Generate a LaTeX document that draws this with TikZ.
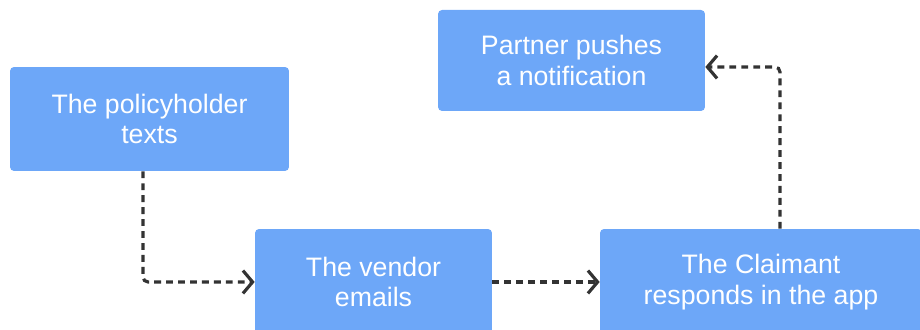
\documentclass[tikz,border=0pt]{standalone}
\usepackage{fontspec}
\setmainfont{Liberation Sans}
\usepackage{xcolor}
\usetikzlibrary{arrows.meta}
\definecolor{boxblue}{RGB}{109,167,248}
\definecolor{linegray}{RGB}{51,51,51}

\begin{document}
\begin{tikzpicture}[x=0.02cm,y=0.02cm,
  stepbox/.style={fill=boxblue,rounded corners=0.08cm,inner sep=0pt,align=center,
    text=white,font=\fontsize{15.2pt}{17.5pt}\selectfont},
  flow/.style={draw=linegray,line width=1.8pt,dash pattern=on 3.9pt off 2.9pt,
    rounded corners=0.1cm,-{Straight Barb[length=5.5pt,width=13pt,line width=1.8pt]}}]
 \clip (0,0) rectangle (920,330);
 \node[stepbox,minimum width=5.58cm,minimum height=2.08cm] (holder) at (149.5,211) {The policyholder\\texts};
 \node[stepbox,minimum width=4.74cm,minimum height=2.12cm] (vendor) at (373.5,48) {The vendor\\emails};
 \node[stepbox,minimum width=6.44cm,minimum height=2.12cm] (claimant) at (761,48) {The Claimant\\responds in the app};
 \node[stepbox,minimum width=5.34cm,minimum height=2.02cm] (partner) at (571.5,269.5) {Partner pushes\\a notification};
 %%%%%%%%%%%%%%%%%%%%%%%%%%%%%%%%%%%
 \draw[flow] ([xshift=-0.13cm]holder.south) |- (vendor.west);
 \draw[flow] (vendor) -- (claimant);
 \draw[flow] ([xshift=0.38cm]claimant.north) |- ([yshift=-0.13cm]partner.east);
\end{tikzpicture}
\end{document}
